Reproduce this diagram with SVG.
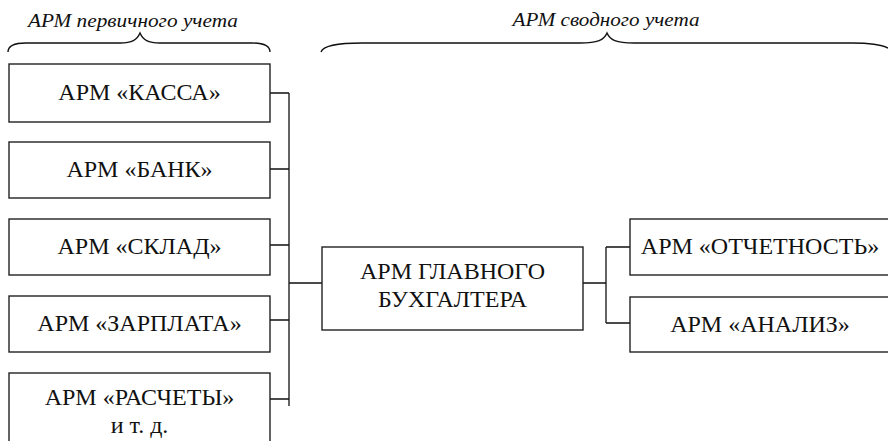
<svg xmlns="http://www.w3.org/2000/svg" width="888" height="441" viewBox="0 0 888 441">
<style>
.box{fill:#fff;stroke:#222;stroke-width:1.4}
.ln{fill:none;stroke:#111;stroke-width:1.3}
.br{fill:none;stroke:#111;stroke-width:1.4}
text{font-family:"Liberation Serif","Times New Roman","DejaVu Serif",serif;fill:#111;text-anchor:middle}
.t{font-size:24px}
.h{font-size:18.5px;font-style:italic}
</style>
<rect width="888" height="441" fill="#fff"/>
<g id="headers">
<text class="h" x="133" y="27" textLength="210" lengthAdjust="spacingAndGlyphs">АРМ первичного учета</text>
<path class="br" d="M8,52 C8,46 14,43 26,43 L120,43 C132,43 137,40 140,33 C143,40 148,43 160,43 L252,43 C264,43 270,46 270,52"/>
<text class="h" x="606" y="26" textLength="187" lengthAdjust="spacingAndGlyphs">АРМ сводного учета</text>
<path class="br" d="M321,52 C323,46 335,43 362,43 L580,43 C598,43 604,40 607,33 C610,40 616,43 634,43 L852,43 C872,43 882,45 888,48"/>
</g>
<g id="connectors">
<path class="ln" d="M270,93 H289 M270,169 H289 M270,245 H289 M270,320 H289 M270,399 H289 M289,93 V406 M289,283 H322"/>
<path class="ln" d="M583,283 H606 M606,247 V323 M606,247 H630 M606,323 H630"/>
</g>
<g id="kassa"><rect class="box" x="9" y="64" width="261" height="58"/><text class="t" x="139.5" y="100">АРМ «КАССА»</text></g>
<g id="bank"><rect class="box" x="9" y="142" width="261" height="56"/><text class="t" x="139.5" y="177">АРМ «БАНК»</text></g>
<g id="sklad"><rect class="box" x="9" y="219" width="261" height="56"/><text class="t" x="139.5" y="254">АРМ «СКЛАД»</text></g>
<g id="zarplata"><rect class="box" x="9" y="296" width="261" height="56"/><text class="t" x="139.5" y="331">АРМ «ЗАРПЛАТА»</text></g>
<g id="raschety"><rect class="box" x="9" y="373" width="261" height="80"/><text class="t" x="139.5" y="405">АРМ «РАСЧЕТЫ»</text><text class="t" x="139.5" y="433">и т. д.</text></g>
<g id="glavbuh"><rect class="box" x="322" y="247" width="261" height="83"/><text class="t" x="452.5" y="279">АРМ ГЛАВНОГО</text><text class="t" x="452.5" y="307">БУХГАЛТЕРА</text></g>
<g id="otchetnost"><rect class="box" x="630" y="219" width="262" height="56"/><text class="t" x="760" y="254">АРМ «ОТЧЕТНОСТЬ»</text></g>
<g id="analiz"><rect class="box" x="630" y="297" width="262" height="55"/><text class="t" x="760" y="332">АРМ «АНАЛИЗ»</text></g>
</svg>
